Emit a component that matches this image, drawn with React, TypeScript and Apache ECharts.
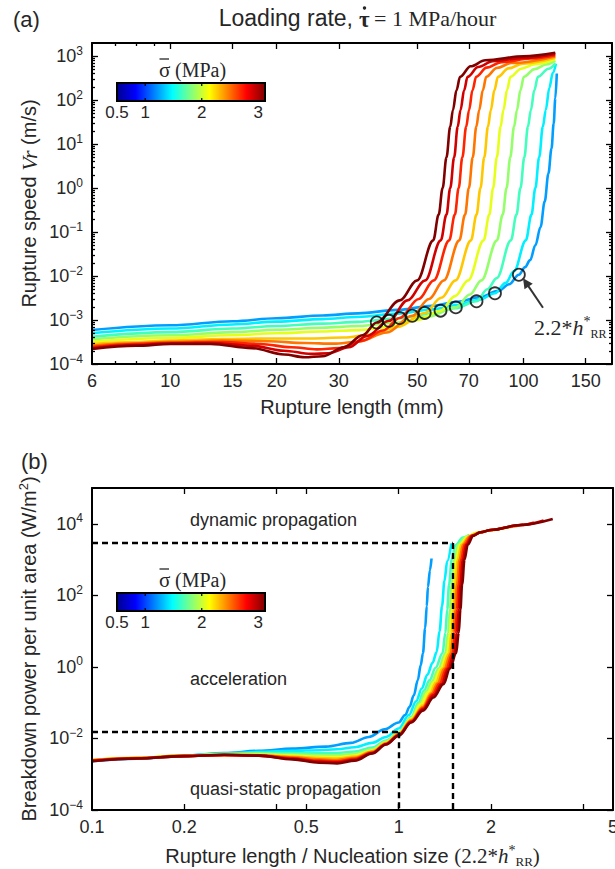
import React, { useEffect, useRef } from 'react';
import * as echarts from 'echarts';

const SANS = '"Liberation Sans", Arial, Helvetica, sans-serif';
const SERIF = '"Liberation Serif", "Times New Roman", serif';
const INK = '#262626';

// sigma-bar values (MPa) of the curves and their jet colours
const SIGMA = [1.2, 1.4, 1.6, 1.8, 2.0, 2.2, 2.4, 2.6, 2.8, 3.0];
const LINE_COLORS = ['#009eff', '#00f0ff', '#42ffbd', '#94ff6b', '#e6ff1a', '#ffc700', '#ff7500', '#ff2400', '#d10000', '#800000'];

// ---------- panel (a): rupture length (mm) vs rupture speed (m/s) ----------
const A_S12 = [[6,5.93e-4],[10,7.6e-4],[15,9.4e-4],[20,1.1e-3],[27,1.27e-3],[34,1.42e-3],[44,1.7e-3],[55,2.1e-3],[65,2.6e-3],[75,3.3e-3],[85,4.6e-3],[91,6.5e-3],[97,1.07e-2],[101,0.016],[104.4,0.023],[108,0.05],[111.7,0.13],[114.8,0.5],[117.6,2.16],[120,8],[121.7,29.5],[123,110],[124.2,404]];
const A_S14 = [[6,5.0e-4],[10,6.4e-4],[15,7.9e-4],[20,9.2e-4],[27,1.05e-3],[34,1.17e-3],[44,1.4e-3],[55,1.75e-3],[65,2.2e-3],[75,2.9e-3],[83,4.06e-3],[89,7e-3],[94,0.013],[101.5,0.065],[105.3,0.25],[108,1],[110.7,5],[113.4,25],[115.6,60],[118.3,190],[121,420],[123.5,680]];
const A_S16 = [[6,4.17e-4],[10,5.3e-4],[15,6.4e-4],[20,7.3e-4],[27,8.3e-4],[34,9.1e-4],[44,1.1e-3],[55,1.4e-3],[64,1.85e-3],[73.6,2.67e-3],[79,5e-3],[84,9e-3],[92.1,0.065],[95.5,0.25],[98,1],[100.5,5],[102.9,25],[104.9,60],[107.3,170],[109.8,340],[117.6,520],[123,680]];
const A_S18 = [[6,3.64e-4],[10,4.5e-4],[15,5.3e-4],[20,6.0e-4],[27,6.7e-4],[34,7.3e-4],[44,8.8e-4],[54,1.2e-3],[64.3,1.94e-3],[70.5,3.8e-3],[76,8e-3],[84.1,0.065],[87.3,0.25],[89.5,1],[91.7,5],[94,25],[95.8,60],[98,170],[100.2,340],[107.4,510],[116,650],[123,780]];
const A_S20 = [[6,3.21e-4],[10,3.9e-4],[15,4.5e-4],[20,5.0e-4],[27,5.5e-4],[34,5.9e-4],[42,7e-4],[50,1.0e-3],[58.2,1.63e-3],[64,3.5e-3],[69.7,8e-3],[77.1,0.065],[80,0.25],[82,1],[84,5],[86.1,25],[87.7,60],[89.8,170],[91.8,340],[98.4,520],[108,660],[123,850]];
const A_S22 = [[6,2.85e-4],[8,3.15e-4],[10,3.4e-4],[14,3.7e-4],[19,3.8e-4],[25,3.8e-4],[31,4.0e-4],[37,4.7e-4],[44,7e-4],[52.5,1.45e-3],[58.5,3.2e-3],[64.2,8e-3],[71,0.065],[73.6,0.25],[75.5,1],[77.4,5],[79.3,25],[80.8,60],[82.7,170],[84.6,340],[90.6,530],[99.7,680],[123,920]];
const A_S24 = [[6,2.61e-4],[8,2.95e-4],[10,3.2e-4],[14,3.4e-4],[19,3.3e-4],[24,3.0e-4],[29,2.9e-4],[34,3.2e-4],[41,5.2e-4],[48.4,1.25e-3],[54,3e-3],[59.5,8e-3],[65.8,0.065],[68.3,0.25],[70,1],[71.8,5],[73.5,25],[74.9,60],[76.7,170],[78.4,340],[84,540],[92.4,700],[123,990]];
const A_S26 = [[6,2.43e-4],[8,2.85e-4],[10,3.05e-4],[14,3.15e-4],[18,2.85e-4],[22,2.4e-4],[26,2.15e-4],[30,2.3e-4],[35,3.4e-4],[40,5.8e-4],[44.6,1.11e-3],[50.5,3e-3],[55.7,8e-3],[61.6,0.065],[63.9,0.25],[65.5,1],[67.1,5],[68.8,25],[70.1,60],[71.7,170],[73.4,340],[78.6,550],[86.5,730],[105,890],[123,1060]];
const A_S28 = [[6,2.27e-4],[8,2.7e-4],[10,2.95e-4],[13,3.0e-4],[17,2.6e-4],[21,2.0e-4],[25,1.7e-4],[28,1.75e-4],[32,2.4e-4],[36,4.3e-4],[41.6,9.6e-4],[46.9,2.8e-3],[52.7,8e-3],[58.3,0.065],[60.5,0.25],[62,1],[63.6,5],[65.1,25],[66.3,60],[67.9,170],[69.4,340],[74.4,570],[81.8,770],[100,920],[123,1130]];
const A_S30 = [[6,2.19e-4],[8,2.6e-4],[10,2.85e-4],[13,2.85e-4],[17,2.3e-4],[21,1.65e-4],[24,1.42e-4],[27,1.5e-4],[31,2.4e-4],[35,4.5e-4],[38.4,8.8e-4],[44.6,2.8e-3],[50,8e-3],[55.5,0.065],[57.5,0.25],[59,1],[60.5,5],[62,25],[63.1,60],[64.6,170],[66.1,340],[70.8,590],[77.9,810],[100,1000],[123,1200]];
const A_CURVES = [A_S12, A_S14, A_S16, A_S18, A_S20, A_S22, A_S24, A_S26, A_S28, A_S30];

// circles at L = 2.2 h*_RR on each curve
const CIRCLE_X = [97, 83, 73.6, 64.3, 58.2, 52.5, 48.4, 44.6, 41.6, 38.4];
const CIRCLE_Y = [1.07e-2, 4.06e-3, 2.67e-3, 1.94e-3, 1.63e-3, 1.45e-3, 1.25e-3, 1.11e-3, 9.6e-4, 8.8e-4];
const ARROW_FROM = [113.5, 1.9e-3];
const ARROW_TO = [101.5, 7.2e-3];

const A_X_LABELS = [6, 10, 15, 20, 30, 50, 70, 100, 150];
const A_X_MINOR = [7, 8, 9];
const A_Y_LABELS = [1e-4, 1e-3, 1e-2, 1e-1, 1, 10, 100, 1000];

// ---------- panel (b): normalised length vs breakdown power (W/m^2) ----------
const B_S12 = [[0.1,2.3e-3],[0.14,2.7e-3],[0.2,3.3e-3],[0.27,3.9e-3],[0.35,4.5e-3],[0.45,5.2e-3],[0.58,5.9e-3],[0.7,7.5e-3],[0.8,0.011],[0.9,0.018],[1.0,0.028],[1.05,0.045],[1.086,0.077],[1.12,0.16],[1.155,0.43],[1.18,1.1],[1.2,2.4],[1.22,12],[1.235,50],[1.246,173],[1.265,500],[1.28,1070]];
const B_S14 = [[0.1,2.35e-3],[0.14,2.75e-3],[0.2,3.3e-3],[0.27,3.8e-3],[0.35,4.2e-3],[0.45,4.5e-3],[0.55,4.7e-3],[0.63,5.0e-3],[0.72,5.7e-3],[0.82,7.5e-3],[0.91,0.011],[1.0,0.019],[1.08,0.045],[1.14,0.11],[1.19,0.25],[1.24,0.6],[1.29,1.3],[1.33,2.6],[1.36,10],[1.385,50],[1.41,250],[1.44,900],[1.485,2800]];
const B_S16 = [[0.1,2.4e-3],[0.14,2.8e-3],[0.2,3.3e-3],[0.27,3.7e-3],[0.35,3.9e-3],[0.45,3.9e-3],[0.55,3.85e-3],[0.63,3.9e-3],[0.72,4.3e-3],[0.82,5.6e-3],[0.91,8.8e-3],[1.0,0.015],[1.1,0.04],[1.16,0.1],[1.21,0.22],[1.26,0.42],[1.32,0.95],[1.39,2.4],[1.42,9],[1.44,40],[1.46,200],[1.49,1000],[1.53,2500],[1.62,4100],[1.7,4900]];
const B_S18 = [[0.1,2.45e-3],[0.14,2.85e-3],[0.2,3.3e-3],[0.27,3.6e-3],[0.35,3.7e-3],[0.45,3.55e-3],[0.55,3.4e-3],[0.63,3.4e-3],[0.72,3.75e-3],[0.82,5e-3],[0.91,8.2e-3],[1.0,0.0145],[1.1,0.038],[1.17,0.095],[1.23,0.21],[1.28,0.38],[1.35,0.9],[1.42,2.4],[1.45,9],[1.47,40],[1.49,200],[1.52,1000],[1.56,2600],[1.66,4300],[1.8,5600],[1.91,6100]];
const B_S20 = [[0.1,2.5e-3],[0.14,2.9e-3],[0.2,3.3e-3],[0.27,3.55e-3],[0.35,3.55e-3],[0.45,3.3e-3],[0.55,3.05e-3],[0.63,3.0e-3],[0.72,3.35e-3],[0.82,4.6e-3],[0.91,7.8e-3],[1.0,0.014],[1.1,0.036],[1.18,0.09],[1.25,0.2],[1.3,0.37],[1.37,0.9],[1.44,2.4],[1.47,9],[1.49,40],[1.51,200],[1.54,1000],[1.58,2600],[1.68,4400],[1.8,5600],[2.0,6600],[2.12,7200]];
const B_S22 = [[0.1,2.5e-3],[0.14,2.9e-3],[0.2,3.3e-3],[0.27,3.5e-3],[0.35,3.45e-3],[0.45,3.1e-3],[0.55,2.85e-3],[0.63,2.75e-3],[0.72,3.1e-3],[0.82,4.4e-3],[0.91,7.5e-3],[1.0,0.0135],[1.1,0.034],[1.2,0.085],[1.27,0.19],[1.32,0.36],[1.39,0.9],[1.46,2.4],[1.49,9],[1.51,40],[1.53,200],[1.56,1000],[1.6,2600],[1.7,4500],[1.85,5800],[2.0,6700],[2.33,8400]];
const B_S24 = [[0.1,2.45e-3],[0.14,2.85e-3],[0.2,3.25e-3],[0.27,3.45e-3],[0.35,3.4e-3],[0.45,2.95e-3],[0.55,2.6e-3],[0.63,2.5e-3],[0.72,2.9e-3],[0.82,4.2e-3],[0.91,7.2e-3],[1.0,0.013],[1.1,0.032],[1.2,0.075],[1.28,0.18],[1.34,0.35],[1.41,0.9],[1.48,2.4],[1.51,9],[1.53,40],[1.55,200],[1.58,1000],[1.62,2600],[1.71,4500],[1.85,5800],[2.0,6700],[2.3,8200],[2.55,9600]];
const B_S26 = [[0.1,2.4e-3],[0.14,2.8e-3],[0.2,3.2e-3],[0.27,3.45e-3],[0.35,3.35e-3],[0.45,2.8e-3],[0.55,2.4e-3],[0.63,2.3e-3],[0.72,2.7e-3],[0.82,4.0e-3],[0.91,7e-3],[1.0,0.0125],[1.1,0.03],[1.2,0.07],[1.29,0.17],[1.36,0.34],[1.43,0.9],[1.5,2.4],[1.53,9],[1.55,40],[1.57,200],[1.6,1000],[1.64,2600],[1.73,4600],[1.85,5800],[2.0,6700],[2.5,9200],[2.76,10900]];
const B_S28 = [[0.1,2.35e-3],[0.14,2.75e-3],[0.2,3.2e-3],[0.27,3.45e-3],[0.35,3.3e-3],[0.45,2.7e-3],[0.55,2.25e-3],[0.63,2.15e-3],[0.72,2.55e-3],[0.82,3.9e-3],[0.91,6.9e-3],[1.0,0.012],[1.1,0.029],[1.2,0.065],[1.3,0.16],[1.38,0.33],[1.45,0.9],[1.52,2.4],[1.55,9],[1.57,40],[1.59,200],[1.62,1000],[1.66,2600],[1.74,4600],[1.85,5800],[2.0,6700],[2.5,9200],[2.97,12300]];
const B_S30 = [[0.1,2.3e-3],[0.14,2.75e-3],[0.2,3.2e-3],[0.27,3.5e-3],[0.35,3.3e-3],[0.45,2.6e-3],[0.55,2.1e-3],[0.63,2.0e-3],[0.72,2.4e-3],[0.82,3.8e-3],[0.91,6.8e-3],[1.0,0.012],[1.1,0.028],[1.2,0.06],[1.3,0.14],[1.4,0.33],[1.47,0.9],[1.54,2.4],[1.57,9],[1.59,40],[1.61,200],[1.64,1000],[1.68,2600],[1.75,4600],[1.85,5800],[2.0,6700],[2.5,9200],[3.18,13500]];
const B_CURVES = [B_S12, B_S14, B_S16, B_S18, B_S20, B_S22, B_S24, B_S26, B_S28, B_S30];

const B_X_LABELS = [0.1, 0.2, 0.5, 1, 2, 5];
const B_X_TICKS = [0.2, 0.4, 0.5, 1, 2, 4];
const B_Y_LABELS = [1e-4, 1e-2, 1, 100, 1e4];
const DASH_UPPER = [1.5, 2900];
const DASH_LOWER = [1.0, 0.015];

const CBAR_TICKS = [0.5, 1, 2, 3];
const CBAR_RANGE = [0.5, 3.12];

const A_Y_MINOR: number[] = [];
for (let e = -4; e <= 3; e++) for (let m = 2; m <= 9; m++) { const v = m * Math.pow(10, e); if (v < 2000) A_Y_MINOR.push(+v.toPrecision(3)); }

const supFmt = (v: number) => {
  const e = Math.round(Math.log10(v));
  return `{b|10}{s|${e < 0 ? '\u2212' + -e : e}}`;
};
const SUP_RICH = {
  b: { fontSize: 18, fontFamily: SANS, color: INK },
  s: { fontSize: 12, fontFamily: SANS, color: INK, padding: [0, 0, 11, 0] },
};

const mkAxis = (o: any) => ({
  type: 'log', logBase: 10, gridIndex: o.grid, min: o.min, max: o.max, position: o.pos,
  axisLine: { show: !!o.line, onZero: false, lineStyle: { color: '#000', width: 2 } },
  axisTick: { show: true, inside: true, length: o.len, lineStyle: { color: '#000', width: 1.3 }, customValues: o.ticks },
  axisLabel: o.labels
    ? { show: true, customValues: o.labels, formatter: o.fmt, margin: o.margin ?? 8, color: INK, fontSize: 18, fontFamily: SANS, rich: o.rich }
    : { show: false },
  splitLine: { show: false }, minorTick: { show: false }, minorSplitLine: { show: false },
  name: o.name, nameLocation: 'middle', nameGap: o.gap, nameTextStyle: o.nts, nameMoveOverlap: false,
  silent: true, z: 5,
});

const jetStops = [
  { offset: 0, color: '#00008f' }, { offset: 0.125, color: '#0000ff' }, { offset: 0.375, color: '#00ffff' },
  { offset: 0.625, color: '#ffff00' }, { offset: 0.875, color: '#ff0000' }, { offset: 1, color: '#800000' },
];

const T = (x: number, y: number, text: string, extra: any = {}) => ({
  type: 'text', x, y, silent: true,
  style: { text, fontSize: 18, fontFamily: SANS, fill: INK, align: 'left', verticalAlign: 'middle', textAlign: 'left', textVerticalAlign: 'middle', ...extra },
});

const makeColorbar = (top: number) => {
  const x0 = 117, w = 148, h = 18;
  const px = (v: number) => ((v - CBAR_RANGE[0]) / (CBAR_RANGE[1] - CBAR_RANGE[0])) * w;
  const children: any[] = [
    { type: 'rect', shape: { x: 0, y: 0, width: w, height: h }, style: { fill: new echarts.graphic.LinearGradient(0, 0, 1, 0, jetStops), stroke: '#000', lineWidth: 2 } },
  ];
  CBAR_TICKS.forEach((v) => {
    if (v > CBAR_TICKS[0] && v < CBAR_TICKS[CBAR_TICKS.length - 1]) {
      children.push({ type: 'line', shape: { x1: px(v), y1: 0, x2: px(v), y2: 3 }, style: { stroke: '#000', lineWidth: 1.2 } });
      children.push({ type: 'line', shape: { x1: px(v), y1: h - 3, x2: px(v), y2: h }, style: { stroke: '#000', lineWidth: 1.2 } });
    }
    children.push(T(px(v), h + 11, String(v), { fontSize: 17, align: 'center', textAlign: 'center' }));
  });
  // sigma with an overbar, then "(MPa)"
  children.push(T(42, -13, 'σ', { fontSize: 21, fontFamily: SERIF }));
  children.push({ type: 'line', shape: { x1: 42.5, y1: -24, x2: 52, y2: -24 }, style: { stroke: INK, lineWidth: 1.3 } });
  children.push(T(58, -13, '(MPa)', { fontSize: 20, fontFamily: SERIF }));
  return { type: 'group', x: x0, y: top, children, silent: true };
};

export default function App() {
  const ref = useRef<HTMLDivElement>(null);
  useEffect(() => {
    document.body.style.margin = '0';
    const chart = echarts.init(ref.current!, null, { renderer: 'svg' });
    const hRich = {
      t: { fontFamily: SERIF, fontSize: 21, color: INK },
      i: { fontFamily: SERIF, fontStyle: 'italic', fontSize: 21, color: INK },
      p: { fontFamily: SERIF, fontSize: 14, color: INK, padding: [0, 0, 10, 0] },
      r: { fontFamily: SERIF, fontSize: 13, color: INK, padding: [12, 0, 0, 0] },
    };
    const series: any[] = [];
    A_CURVES.forEach((d, i) => series.push({
      type: 'line', name: 'a ' + SIGMA[i], xAxisIndex: 0, yAxisIndex: 0, data: d, showSymbol: false, symbol: 'none',
      smooth: 0.35, smoothMonotone: 'x', lineStyle: { width: 2.6, color: LINE_COLORS[i] }, itemStyle: { color: LINE_COLORS[i] }, z: 2, silent: true,
    }));
    series.push({
      type: 'scatter', xAxisIndex: 0, yAxisIndex: 0, data: CIRCLE_X.map((x, i) => [x, CIRCLE_Y[i]]), symbol: 'circle', symbolSize: 12,
      itemStyle: { color: 'rgba(255,255,255,0)', borderColor: '#000', borderWidth: 1.8 }, z: 4, silent: true,
      markLine: {
        silent: true, symbol: ['none', 'triangle'], symbolSize: 10, label: { show: false }, z: 6,
        lineStyle: { color: '#333', width: 2, type: 'solid' },
        itemStyle: { color: '#333' },
        data: [[{ coord: ARROW_FROM }, { coord: ARROW_TO }]],
      },
    });
    B_CURVES.forEach((d, i) => series.push({
      type: 'line', name: 'b ' + SIGMA[i], xAxisIndex: 4, yAxisIndex: 4, data: d, showSymbol: false, symbol: 'none',
      smooth: 0.35, smoothMonotone: 'x', lineStyle: { width: 2.6, color: LINE_COLORS[i] }, itemStyle: { color: LINE_COLORS[i] }, z: 2, silent: true,
      markLine: i === B_CURVES.length - 1 ? {
        silent: true, symbol: ['none', 'none'], label: { show: false }, z: 6,
        lineStyle: { color: '#000', width: 2.4, type: [6, 4] },
        data: [
          [{ coord: [0.1, DASH_UPPER[1]] }, { coord: DASH_UPPER }],
          [{ coord: DASH_UPPER }, { coord: [DASH_UPPER[0], 1e-4] }],
          [{ coord: [0.1, DASH_LOWER[1]] }, { coord: DASH_LOWER }],
          [{ coord: DASH_LOWER }, { coord: [DASH_LOWER[0], 1e-4] }],
        ],
      } : undefined,
    }));

    const option: any = {
      animation: false,
      backgroundColor: '#fff',
      grid: [
        { left: 92, top: 43, width: 520, height: 321, outerBoundsMode: 'none' },
        { left: 92, top: 488, width: 521, height: 322, outerBoundsMode: 'none' },
      ],
      xAxis: [
        mkAxis({ grid: 0, min: 6, max: 178, pos: 'bottom', line: true, len: 6, ticks: A_X_LABELS.slice(1), labels: A_X_LABELS, fmt: (v: number) => String(v),
          name: 'Rupture length (mm)', gap: 33, nts: { fontSize: 20, fontFamily: SANS, color: INK } }),
        mkAxis({ grid: 0, min: 6, max: 178, pos: 'bottom', len: 3, ticks: A_X_MINOR }),
        mkAxis({ grid: 0, min: 6, max: 178, pos: 'top', line: true, len: 6, ticks: A_X_LABELS.slice(1) }),
        mkAxis({ grid: 0, min: 6, max: 178, pos: 'top', len: 3, ticks: A_X_MINOR }),
        mkAxis({ grid: 1, min: 0.1, max: 5, pos: 'bottom', line: true, len: 6, ticks: B_X_TICKS, labels: B_X_LABELS, fmt: (v: number) => String(v),
          name: 'Rupture length / Nucleation size {t|(2.2*}{i|h}{p|*}{r|RR}{t|)}', gap: 33,
          nts: { fontSize: 20, fontFamily: SANS, color: INK, rich: hRich } }),
        mkAxis({ grid: 1, min: 0.1, max: 5, pos: 'top', line: true, len: 6, ticks: B_X_TICKS }),
      ],
      yAxis: [
        mkAxis({ grid: 0, min: 1e-4, max: 2000, pos: 'left', line: true, len: 6, ticks: A_Y_LABELS, labels: A_Y_LABELS, fmt: supFmt, rich: SUP_RICH, margin: 9,
          name: 'Rupture speed {v|Vr} (m/s)', gap: 52,
          nts: { fontSize: 20, fontFamily: SANS, color: INK, rich: { v: { fontFamily: SERIF, fontStyle: 'italic', fontSize: 22, color: INK } } } }),
        mkAxis({ grid: 0, min: 1e-4, max: 2000, pos: 'left', len: 3, ticks: A_Y_MINOR }),
        mkAxis({ grid: 0, min: 1e-4, max: 2000, pos: 'right', line: true, len: 6, ticks: A_Y_LABELS }),
        mkAxis({ grid: 0, min: 1e-4, max: 2000, pos: 'right', len: 3, ticks: A_Y_MINOR }),
        mkAxis({ grid: 1, min: 1e-4, max: 1e5, pos: 'left', line: true, len: 6, ticks: B_Y_LABELS, labels: B_Y_LABELS, fmt: supFmt, rich: SUP_RICH, margin: 9,
          name: 'Breakdown power per unit area (W/m{s|2})', gap: 52,
          nts: { fontSize: 20, fontFamily: SANS, color: INK, rich: { s: { fontSize: 13, fontFamily: SANS, color: INK, padding: [0, 0, 10, 0] } } } }),
        mkAxis({ grid: 1, min: 1e-4, max: 1e5, pos: 'right', line: true, len: 6, ticks: B_Y_LABELS }),
      ],
      series,
      graphic: [
        T(13, 19, '(a)', { fontSize: 22 }),
        T(21, 461, '(b)', { fontSize: 22 }),
        // title: "Loading rate, τ̇ = 1 MPa/hour"
        T(353, 18, 'Loading rate,', { fontSize: 23, align: 'right', textAlign: 'right' }),
        T(359, 19, 'τ', { fontSize: 23, fontFamily: SERIF, fontWeight: 'bold' }),
        { type: 'circle', shape: { cx: 364.5, cy: 8, r: 1.7 }, style: { fill: INK }, silent: true },
        T(374, 18, '= 1 MPa/hour', { fontSize: 22, fontFamily: SERIF }),
        {
          type: 'text', x: 534, y: 327, silent: true,
          style: {
            text: '{t|2.2*}{i|h}{p|*}{r|RR}', align: 'left', verticalAlign: 'middle', textAlign: 'left', textVerticalAlign: 'middle',
            rich: {
              t: { fontFamily: SERIF, fontSize: 22, color: INK, fill: INK },
              i: { fontFamily: SERIF, fontStyle: 'italic', fontSize: 22, color: INK, fill: INK },
              p: { fontFamily: SERIF, fontSize: 14, color: INK, fill: INK, padding: [0, 0, 12, 0] },
              r: { fontFamily: SERIF, fontSize: 12, color: INK, fill: INK, padding: [14, 0, 0, 0] },
            },
          },
        },
        makeColorbar(83),
        makeColorbar(593),
        T(190, 520, 'dynamic propagation'),
        T(190, 679, 'acceleration'),
        T(190, 789, 'quasi-static propagation'),
      ],
    };
    chart.setOption(option);
    return () => chart.dispose();
  }, []);
  return <div ref={ref} style={{ width: 615, height: 869 }} />;
}
